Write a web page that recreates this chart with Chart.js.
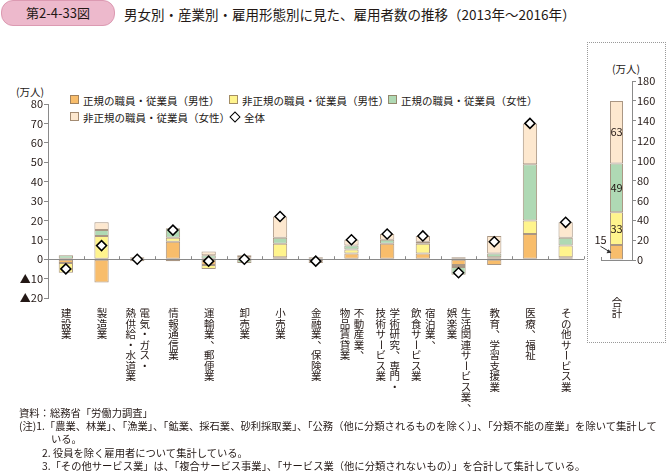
<!DOCTYPE html>
<html lang="ja">
<head>
<meta charset="utf-8">
<script src="https://cdn.jsdelivr.net/npm/chart.js@4.4.0/dist/chart.umd.min.js"></script>
<style>
body { margin:0; width:669px; height:472px; background:#fff; position:relative; overflow:hidden;
  font-family:"Noto Sans CJK JP","Noto Sans",sans-serif; color:#231815; }
.abs { position:absolute; white-space:nowrap; }
.badge { left:1px; top:0; width:112px; height:24px; line-height:24px; text-align:center; font-size:13px;
  background:#EDB9CC; border:1px solid #DC9AB2; border-radius:12px; }
.title { left:124px; top:4px; font-size:13.5px; line-height:20px; }
.unit { font-size:10.5px; }
.lg { font-size:10.5px; line-height:14px; }
.sw { display:inline-block; width:7px; height:7px; border:1px solid rgba(140,115,90,0.8); margin-right:4px; vertical-align:1px; }
.dia { display:inline-block; width:6px; height:6px; border:1.5px solid #000; background:#fff; transform:rotate(45deg); margin:0 5px 0 2px; vertical-align:1px; }
.box { left:587px; top:42px; width:77px; height:299px; border:1px dotted #999; }
.note { left:19px; font-size:10.3px; line-height:13px; }
canvas { position:absolute; }
</style>
</head>
<body>
<div class="abs badge">第2-4-33図</div>
<div class="abs title">男女別・産業別・雇用形態別に見た、雇用者数の推移（2013年～2016年）</div>
<div class="abs box"></div>

<div class="abs unit" style="left:16px;top:84px">(万人)</div>
<div class="abs unit" style="left:612px;top:61px">(万人)</div>

<div class="abs lg" style="left:70px;top:94px"><span class="sw" style="background:#F8BD6B"></span>正規の職員・従業員（男性）</div>
<div class="abs lg" style="left:229px;top:94px"><span class="sw" style="background:#FFF48D"></span>非正規の職員・従業員（男性）</div>
<div class="abs lg" style="left:388px;top:94px"><span class="sw" style="background:#AFD9B4"></span>正規の職員・従業員（女性）</div>
<div class="abs lg" style="left:70px;top:111px"><span class="sw" style="background:#FDE8CF"></span>非正規の職員・従業員（女性）</div>
<div class="abs lg" style="left:229px;top:111px"><span class="dia"></span>全体</div>

<canvas id="main" width="590" height="420" style="left:0;top:0"></canvas>
<canvas id="total" width="77" height="270" style="left:588px;top:60px"></canvas>

<div class="abs note" style="top:406px">資料：総務省「労働力調査」</div>
<div class="abs note" style="top:419px">(注)1.「農業、林業」、「漁業」、「鉱業、採石業、砂利採取業」、「公務（他に分類されるものを除く）」、「分類不能の産業」を除いて集計して</div>
<div class="abs note" style="top:432px;left:51px">いる。</div>
<div class="abs note" style="top:446px;left:42px">2. 役員を除く雇用者について集計している。</div>
<div class="abs note" style="top:459px;left:42px">3.「その他サービス業」は、「複合サービス事業」、「サービス業（他に分類されないもの）」を合計して集計している。</div>

<script>
var categories = ['建設業', '製造業', '電気・ガス・熱供給・水道業', '情報通信業', '運輸業、郵便業', '卸売業', '小売業',
	'金融業、保険業', '不動産業、物品賃貸業', '学術研究、専門・技術サービス業', '宿泊業、飲食サービス業',
	'生活関連サービス業、娯楽業', '教育、学習支援業', '医療、福祉', 'その他サービス業']
// vertical columns, right column first
var labelColumns = [['建設業'], ['製造業'], ['電気・ガス・', '熱供給・水道業'], ['情報通信業'], ['運輸業、郵便業'], ['卸売業'], ['小売業'],
	['金融業、保険業'], ['不動産業、', '物品賃貸業'], ['学術研究、専門・', '技術サービス業'], ['宿泊業、', '飲食サービス業'],
	['生活関連サービス業、', '娯楽業'], ['教育、学習支援業'], ['医療、福祉'], ['その他サービス業']]

var seriesNames = ['正規の職員・従業員（男性）', '非正規の職員・従業員（男性）', '正規の職員・従業員（女性）', '非正規の職員・従業員（女性）']
var regularMale      = [-2, -12, -1, 9, -3,  1,  1, -1, 3, 8, 3, -3, -3, 13, 1]
var nonRegularMale   = [-5,  12,  0, 2, -2,  0,  7,  0, 2, 0, 5, -1,  1,  7, 6]
var regularFemale    = [ 2,   3,  0, 5,  2, -2,  3,  1, 2, 2, 1, -4,  2, 29, 4]
var nonRegularFemale = [ 0,   4,  1, -1, 2,  1, 11, -1, 3, 3, 3,  1,  9, 21, 8]
var overall          = [-5,   7,  0, 15, -1, 0, 22, -1, 10, 13, 12, -7, 9, 70, 19]

var totalLabel = '合計'
var totalBySeries = [15, 33, 49, 63]

var leftMin = -20, leftMax = 80, leftStep = 10
var rightMin = 0, rightMax = 180, rightStep = 20

var fills = ['#F8BD6B', '#FFF48D', '#AFD9B4', '#FDE8CF']
var edge = 'rgba(140,115,90,0.75)'
var ink = '#231815'
var axisColor = '#8a8a8a'

Chart.defaults.font.family = '"Noto Sans CJK JP", "Noto Sans", sans-serif'
Chart.defaults.color = ink

function drawVertical(ctx, cols, cx, top, size) {
	ctx.save()
	ctx.font = size + 'px "Noto Sans CJK JP"'
	ctx.fillStyle = ink
	ctx.textAlign = 'center'
	ctx.textBaseline = 'middle'
	var gap = 14
	cols.forEach(function (line, li) {
		var x = cx + ((cols.length - 1) / 2 - li) * gap + 0.5
		Array.from(line).forEach(function (ch, k) {
			var y = top + k * size + size / 2
			if (ch === 'ー') {
				ctx.save()
				ctx.translate(x, y)
				ctx.rotate(Math.PI / 2)
				ctx.fillText(ch, 0, 0)
				ctx.restore()
			} else if (ch === '、') {
				ctx.fillText(ch, x + size * 0.6, y - size * 0.55)
			} else {
				ctx.fillText(ch, x, y)
			}
		})
	})
	ctx.restore()
}

var mainExtras = {
	id: 'mainExtras',
	afterDraw: function (chart) {
		var ctx = chart.ctx, xs = chart.scales.x, ys = chart.scales.y
		var y0 = ys.getPixelForValue(0)
		var half = (xs.getPixelForValue(1) - xs.getPixelForValue(0)) / 2
		ctx.save()
		ctx.strokeStyle = axisColor
		ctx.lineWidth = 1
		for (var i = 0; i < categories.length; i++) {
			var bx = Math.round(xs.getPixelForValue(i) + half) + 0.5
			ctx.beginPath()
			ctx.moveTo(bx, y0)
			ctx.lineTo(bx, y0 - 3)
			ctx.stroke()
		}
		ctx.restore()
		for (var j = 0; j < categories.length; j++) {
			drawVertical(ctx, labelColumns[j], xs.getPixelForValue(j), 308, 10.5)
		}
	}
}

function barSet(i, data) {
	return {
		type: 'bar',
		label: seriesNames[i],
		data: data,
		backgroundColor: fills[i],
		borderColor: edge,
		borderWidth: 1,
		borderSkipped: false,
		stack: 'all',
		order: 1,
		barPercentage: 0.4,
		categoryPercentage: 1
	}
}

new Chart(document.getElementById('main'), {
	data: {
		labels: categories,
		datasets: [
			barSet(0, regularMale),
			barSet(1, nonRegularMale),
			barSet(2, regularFemale),
			barSet(3, nonRegularFemale),
			{
				type: 'line',
				label: '全体',
				data: overall,
				showLine: false,
				stack: 'diamond',
				order: 0,
				pointStyle: 'rectRot',
				pointRadius: 5,
				pointBackgroundColor: '#fff',
				pointBorderColor: '#000',
				pointBorderWidth: 1.5
			}
		]
	},
	options: {
		responsive: false,
		animation: false,
		layout: { padding: { left: 0, top: 104, right: 5, bottom: 122 } },
		plugins: { legend: { display: false }, tooltip: { enabled: false } },
		scales: {
			x: {
				type: 'category',
				stacked: true,
				position: { y: 0 },
				ticks: { display: false },
				grid: { display: true, drawOnChartArea: false, drawTicks: false },
				border: { color: axisColor, width: 1 }
			},
			y: {
				stacked: true,
				min: leftMin,
				max: leftMax,
				afterFit: function (s) { s.width = 48 },
				ticks: {
					stepSize: leftStep,
					padding: 1,
					font: { size: 11 },
					color: ink,
					callback: function (v) { return v < 0 ? '▲' + (-v) : String(v) }
				},
				grid: { drawOnChartArea: false, tickLength: 4, tickColor: axisColor },
				border: { color: axisColor, width: 1 }
			}
		}
	},
	plugins: [mainExtras]
})

var totalExtras = {
	id: 'totalExtras',
	afterDatasetsDraw: function (chart) {
		var ctx = chart.ctx
		ctx.save()
		ctx.font = '11px "Noto Sans CJK JP"'
		ctx.fillStyle = ink
		ctx.textAlign = 'center'
		ctx.textBaseline = 'middle'
		totalBySeries.forEach(function (v, i) {
			var el = chart.getDatasetMeta(i).data[0]
			var cy = (el.y + el.base) / 2
			if (i === 0) {
				ctx.fillText(String(v), el.x - 16, cy - 12)
				ctx.strokeStyle = '#333'
				ctx.lineWidth = 1
				ctx.beginPath()
				ctx.moveTo(el.x - 16, cy - 6)
				ctx.lineTo(el.x - 6, cy)
				ctx.stroke()
				ctx.beginPath()
				ctx.moveTo(el.x - 5, cy + 0.5)
				ctx.lineTo(el.x - 10, cy + 1)
				ctx.lineTo(el.x - 8, cy - 3)
				ctx.closePath()
				ctx.fillStyle = '#333'
				ctx.fill()
				ctx.fillStyle = ink
			} else {
				ctx.fillText(String(v), el.x, cy)
			}
		})
		ctx.restore()
	},
	afterDraw: function (chart) {
		var ctx = chart.ctx, xs = chart.scales.x, ys = chart.scales.y
		var y0 = ys.getPixelForValue(0)
		ctx.save()
		ctx.strokeStyle = axisColor
		ctx.beginPath()
		ctx.moveTo(Math.round(xs.left) + 0.5, y0)
		ctx.lineTo(Math.round(xs.left) + 0.5, y0 - 3)
		ctx.stroke()
		ctx.restore()
		drawVertical(ctx, [totalLabel], xs.getPixelForValue(0), 237, 10.5)
	}
}

new Chart(document.getElementById('total'), {
	type: 'bar',
	data: {
		labels: [totalLabel],
		datasets: totalBySeries.map(function (v, i) {
			return {
				label: seriesNames[i],
				data: [v],
				backgroundColor: fills[i],
				borderColor: edge,
				borderWidth: 1,
				borderSkipped: false,
				barPercentage: 0.42,
				categoryPercentage: 1
			}
		})
	},
	options: {
		responsive: false,
		animation: false,
		layout: { padding: { left: 13, top: 21, right: 0, bottom: 70 } },
		plugins: { legend: { display: false }, tooltip: { enabled: false } },
		scales: {
			x: {
				stacked: true,
				ticks: { display: false },
				grid: { display: true, drawOnChartArea: false, drawTicks: false },
				border: { color: axisColor, width: 1 }
			},
			y: {
				stacked: true,
				position: 'right',
				min: rightMin,
				max: rightMax,
				afterFit: function (s) { s.width = 33 },
				ticks: { stepSize: rightStep, padding: 1, font: { size: 11 }, color: ink },
				grid: { drawOnChartArea: false, tickLength: 4, tickColor: axisColor },
				border: { color: axisColor, width: 1 }
			}
		}
	},
	plugins: [totalExtras]
})
</script>
</body>
</html>
